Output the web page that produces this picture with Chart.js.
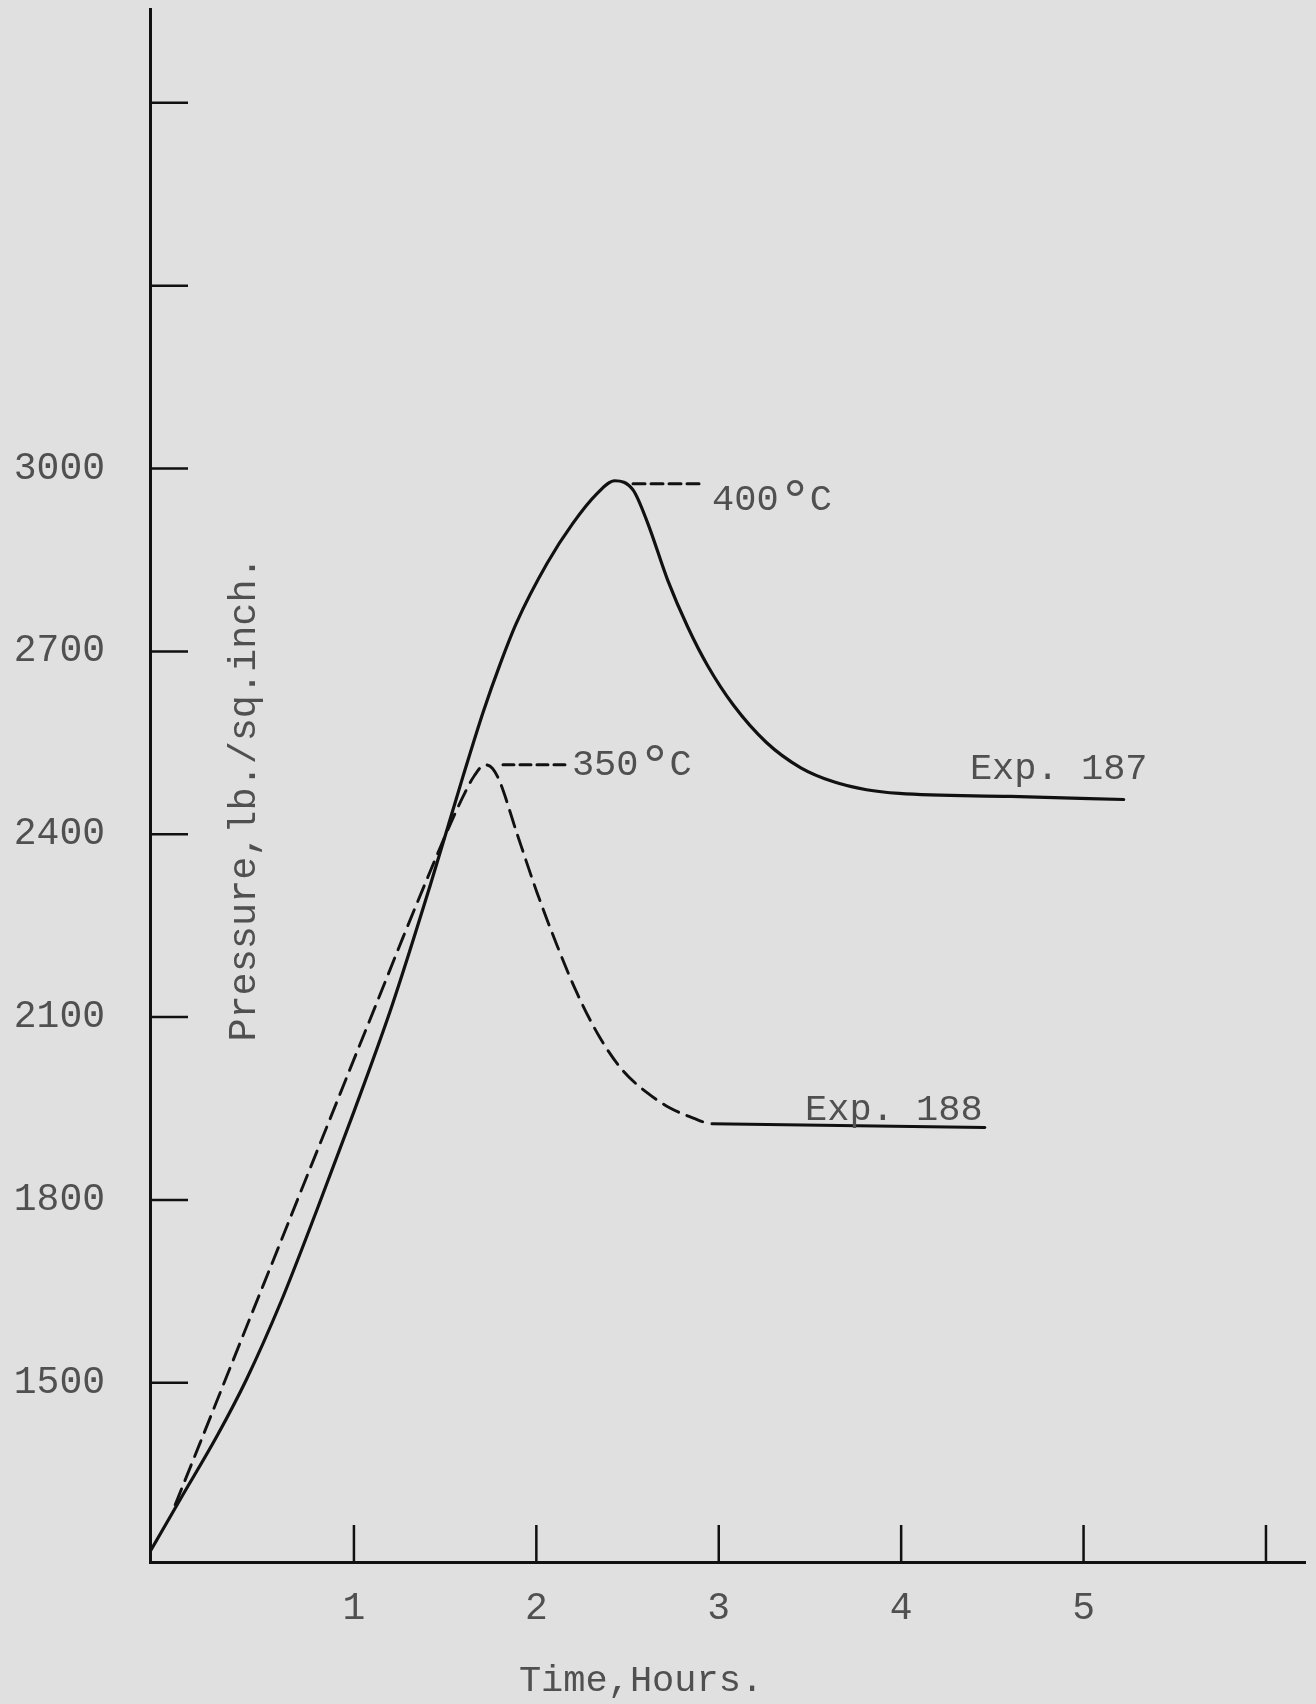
<!DOCTYPE html>
<html>
<head>
<meta charset="utf-8">
<title>Pressure vs Time, Exp. 187 / 188</title>
<script src="https://cdn.jsdelivr.net/npm/chart.js@4.4.1/dist/chart.umd.min.js"></script>
<style>
    html, body { margin: 0; padding: 0; background: #e0e0e0; }
    #wrap { width: 1316px; height: 1704px; }
</style>
</head>
<body>
<div id="wrap"><canvas id="pressureChart" width="1316" height="1704"></canvas></div>
<script>
/* ==================== DATA ==================== */

// Exp. 187 (solid curve, heated to 400 C)
const exp187Time     = [-0.118, 0.06, 0.25, 0.41, 0.60, 0.80, 1.00, 1.21, 1.42, 1.60, 1.71, 1.80, 1.89, 2.06, 2.20, 2.33, 2.43, 2.53, 2.61, 2.72, 2.83, 2.94, 3.08, 3.26, 3.45, 3.63, 3.81, 3.99, 4.60, 5.22];
const exp187Pressure = [1223, 1315, 1413, 1505, 1633, 1786, 1945, 2120, 2318, 2497, 2602, 2678, 2746, 2845, 2910, 2958, 2980, 2965, 2911, 2817, 2740, 2676, 2612, 2551, 2509, 2486, 2473, 2467, 2462, 2457];

// Exp. 188 (dashed curve, heated to 350 C)
const exp188Time     = [0.02, 0.156, 0.283, 0.43, 0.578, 0.721, 0.869, 0.995, 1.126, 1.268, 1.40, 1.51, 1.60, 1.66, 1.718, 1.76, 1.80, 1.893, 2.003, 2.113, 2.222, 2.349, 2.475, 2.607, 2.733, 2.914];
const exp188Pressure = [1300, 1401, 1496, 1606, 1716, 1823, 1933, 2027, 2124, 2230, 2326, 2404, 2463, 2496, 2514, 2508, 2486, 2402, 2305, 2218, 2140, 2066, 2012, 1976, 1951, 1928];

// Exp. 188 final level (drawn solid)
const exp188TailTime     = [2.963, 4.459];
const exp188TailPressure = [1925, 1919];

// dashed leaders to the temperature notes
const leader400Time     = [2.53, 2.924];
const leader400Pressure = [2975, 2975];
const leader350Time     = [1.817, 2.168];
const leader350Pressure = [2514, 2514];

// text notes placed in data units
const noteTexts     = ['Exp. 187', 'Exp. 188'];
const noteTimes     = [4.377, 3.473];
const notePressures = [2491, 1931];

const tempTexts     = ['400', '350'];
const tempTimes     = [2.963, 2.195];
const tempPressures = [2932, 2497];

// axes
const xTickValues = [1, 2, 3, 4, 5, 6];
const xTickLabels = ['1', '2', '3', '4', '5', ''];
const yTickValues = [1500, 1800, 2100, 2400, 2700, 3000, 3300, 3600];
const yTickLabels = ['1500', '1800', '2100', '2400', '2700', '3000', '', ''];

/* ==================== STYLE ==================== */

const INK = '#111111';
const TEXT = '#505050';
const FONT_FAMILY = '"Liberation Mono", "Courier New", monospace';
const FONT = '37px ' + FONT_FAMILY;

// Build {x, y} points from two arrays
function toPoints(xs, ys) {
    return xs.map((x, i) => ({ x: x, y: ys[i] }));
}

// Tick marks pointing into the plot, like the drawn original
const inwardTicks = {
    id: 'inwardTicks',
    afterDatasetsDraw(chart) {
        const { ctx, scales: { x, y } } = chart;
        ctx.save();
        ctx.strokeStyle = INK;
        ctx.lineWidth = 2.5;
        y.ticks.forEach(t => {
            const py = y.getPixelForValue(t.value);
            ctx.beginPath();
            ctx.moveTo(y.right, py);
            ctx.lineTo(y.right + 38, py);
            ctx.stroke();
        });
        x.ticks.forEach(t => {
            const px = x.getPixelForValue(t.value);
            ctx.beginPath();
            ctx.moveTo(px, x.top);
            ctx.lineTo(px, x.top - 37);
            ctx.stroke();
        });
        ctx.restore();
    }
};

// Temperature note: number, raised degree mark, C
function drawTempNote(ctx, text, px, py) {
    ctx.font = FONT;
    ctx.textAlign = 'left';
    ctx.fillText(text, px, py);
    const w = ctx.measureText(text).width;
    const cell = w / text.length;
    ctx.font = '58px ' + FONT_FAMILY;
    ctx.textAlign = 'center';
    ctx.fillText('°', px + w + cell * 0.74, py + 9);
    ctx.font = FONT;
    ctx.textAlign = 'left';
    ctx.fillText('C', px + w + cell * 1.4, py);
}

// Notes and axis titles
const chartNotes = {
    id: 'chartNotes',
    afterDraw(chart) {
        const { ctx, scales: { x, y } } = chart;
        ctx.save();
        ctx.fillStyle = TEXT;
        ctx.textBaseline = 'alphabetic';

        noteTexts.forEach((t, i) => {
            ctx.font = FONT;
            ctx.textAlign = 'left';
            ctx.fillText(t, x.getPixelForValue(noteTimes[i]), y.getPixelForValue(notePressures[i]));
        });

        tempTexts.forEach((t, i) => {
            drawTempNote(ctx, t, x.getPixelForValue(tempTimes[i]), y.getPixelForValue(tempPressures[i]));
        });

        // axis titles
        ctx.font = FONT;
        ctx.textAlign = 'center';
        ctx.textBaseline = 'middle';
        ctx.fillText('Time,Hours.', 641, 1681);

        ctx.font = '38.5px ' + FONT_FAMILY;
        ctx.translate(245, 799);
        ctx.rotate(-Math.PI / 2);
        ctx.fillText('Pressure,lb./sq.inch.', 0, 0);
        ctx.restore();
    }
};

/* ==================== CHART ==================== */

function initPressureChart() {
    const ctx = document.getElementById('pressureChart');

    new Chart(ctx.getContext('2d'), {
        type: 'line',
        data: {
            datasets: [
                {
                    label: 'Exp. 187',
                    data: toPoints(exp187Time, exp187Pressure),
                    borderColor: INK,
                    borderWidth: 3.2,
                    cubicInterpolationMode: 'monotone'
                },
                {
                    label: 'Exp. 188',
                    data: toPoints(exp188Time, exp188Pressure),
                    borderColor: INK,
                    borderWidth: 2.9,
                    borderDash: [17, 9],
                    cubicInterpolationMode: 'monotone'
                },
                {
                    label: 'Exp. 188 final',
                    data: toPoints(exp188TailTime, exp188TailPressure),
                    borderColor: INK,
                    borderWidth: 3
                },
                {
                    label: '400 C',
                    data: toPoints(leader400Time, leader400Pressure),
                    borderColor: INK,
                    borderWidth: 3,
                    borderDash: [12, 6]
                },
                {
                    label: '350 C',
                    data: toPoints(leader350Time, leader350Pressure),
                    borderColor: INK,
                    borderWidth: 3,
                    borderDash: [11, 6]
                }
            ]
        },
        options: {
            responsive: false,
            animation: false,
            events: [],
            elements: {
                point: { radius: 0 },
                line: { fill: false, borderCapStyle: 'round' }
            },
            layout: {
                padding: { top: 9, right: 11, bottom: 0, left: 0 }
            },
            plugins: {
                legend: { display: false },
                tooltip: { enabled: false }
            },
            scales: {
                x: {
                    type: 'linear',
                    min: -0.118,
                    max: 6.214,
                    afterFit: s => {
                        s.height = 142;
                        s.paddingLeft = 0;
                        s.paddingRight = 0;
                    },
                    afterBuildTicks: s => { s.ticks = xTickValues.map(v => ({ value: v })); },
                    grid: { drawOnChartArea: false, drawTicks: false },
                    border: { display: true, color: INK, width: 3 },
                    ticks: {
                        autoSkip: false,
                        maxRotation: 0,
                        padding: 24,
                        color: TEXT,
                        font: { family: FONT_FAMILY, size: 38 },
                        callback: function(value) {
                            const i = xTickValues.indexOf(value);
                            return i >= 0 ? xTickLabels[i] : '';
                        }
                    }
                },
                y: {
                    type: 'linear',
                    min: 1206,
                    max: 3754,
                    afterFit: s => {
                        s.width = 150;
                        s.paddingTop = 0;
                        s.paddingBottom = 0;
                    },
                    afterBuildTicks: s => { s.ticks = yTickValues.map(v => ({ value: v })); },
                    grid: { drawOnChartArea: false, drawTicks: false },
                    border: { display: true, color: INK, width: 3 },
                    ticks: {
                        autoSkip: false,
                        padding: 45,
                        color: TEXT,
                        font: { family: FONT_FAMILY, size: 38 },
                        callback: function(value) {
                            const i = yTickValues.indexOf(value);
                            return i >= 0 ? yTickLabels[i] : '';
                        }
                    }
                }
            }
        },
        plugins: [inwardTicks, chartNotes]
    });
}

document.addEventListener('DOMContentLoaded', function() {
    initPressureChart();
});
</script>
</body>
</html>
